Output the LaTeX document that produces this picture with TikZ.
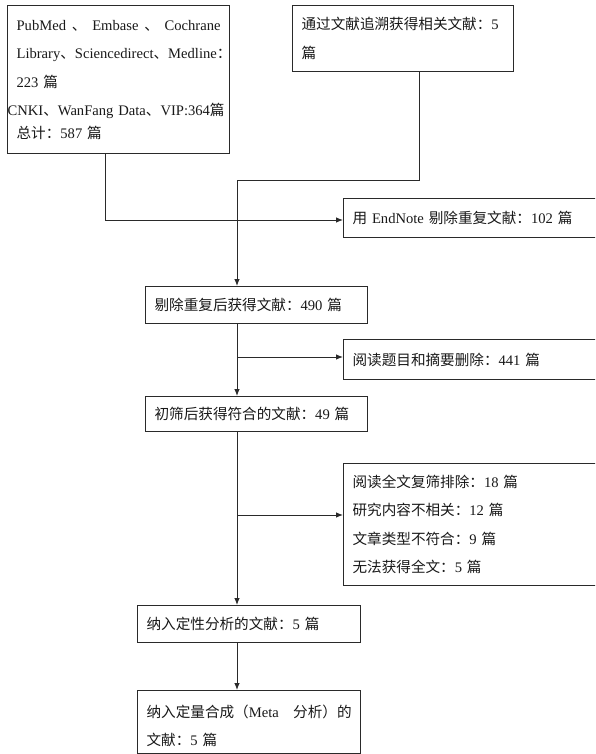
\documentclass[tikz,border=0pt]{standalone}
\usepackage{fontspec}
\setmainfont{Liberation Serif}
\newfontfamily\cjk{Noto Sans CJK SC}
\newcommand\zh[1]{{\cjk #1}}
\usetikzlibrary{arrows.meta,calc}
\definecolor{ink}{HTML}{2A2A2A}
\tikzset{
  fbox/.style={draw=ink, line width=1.2pt, rectangle, anchor=north west,
    align=left, inner xsep=9pt, inner ysep=0pt, text=black!90,
    font=\fontsize{14.6}{28.5}\selectfont},
  conn/.style={draw=ink, line width=0.9pt},
  arr/.style={conn, -{Latex[length=7pt,width=5.5pt]}}
}
\begin{document}
\begin{tikzpicture}[x=1pt,y=-1pt]
\useasboundingbox (0,0) rectangle (595,754);
\clip (0,0) rectangle (595,754);
\fill[white] (0,0) rectangle (595,754);
% boxes
\node[fbox, text width=204pt, minimum height=148pt] (src) at (7,5)
  {\hbox to \linewidth{PubMed\hfill\zh{、}\hfill Embase\hfill\zh{、}\hfill Cochrane}\\
   \makebox[\linewidth][l]{Library\zh{、}Sciencedirect\zh{、}Medline\zh{：}}\\
   223 \zh{篇}\\
   \makebox[\linewidth][l]{\hspace*{-9pt}CNKI\zh{、}WanFang Data\zh{、}VIP:364\zh{篇}}\\[-6pt]
   \zh{总计：}587 \zh{篇}};
\node[fbox, text width=203pt, minimum height=66pt] (trace) at (292,5)
  {\zh{通过文献追溯获得相关文献：}5\\ \zh{篇}};
\node[fbox, text width=249pt, minimum height=39pt] (endnote) at (343,198)
  {\zh{用} EndNote \zh{剔除重复文献：}102 \zh{篇}};
\node[fbox, text width=204pt, minimum height=37pt] (dedup) at (145,286)
  {\zh{剔除重复后获得文献：}490 \zh{篇}};
\node[fbox, text width=249pt, minimum height=40pt] (title) at (343,339)
  {\zh{阅读题目和摘要删除：}441 \zh{篇}};
\node[fbox, text width=204pt, minimum height=35pt] (prelim) at (145,396)
  {\zh{初筛后获得符合的文献：}49 \zh{篇}};
\node[fbox, text width=249pt, minimum height=122pt] (full) at (343,463)
  {\zh{阅读全文复筛排除：}18 \zh{篇}\\
   \zh{研究内容不相关：}12 \zh{篇}\\
   \zh{文章类型不符合：}9 \zh{篇}\\
   \zh{无法获得全文：}5 \zh{篇}};
\node[fbox, text width=205pt, minimum height=37pt] (qual) at (137,605)
  {\zh{纳入定性分析的文献：}5 \zh{篇}};
\node[fbox, text width=205pt, minimum height=63pt] (meta) at (137,690)
  {\rule{0pt}{20pt}\hbox to \linewidth{\zh{纳入定量合成（}Meta\hfill\zh{分析）的}}\\
   \zh{文献：}5 \zh{篇}};
% connectors
\coordinate (j1) at (105,220);
\coordinate (j2) at (419,180);
\coordinate (j3) at (237,180);
\coordinate (b1) at (237,357);
\coordinate (b2) at (237,515);
\draw[arr] (src.south -| j1) -- (j1) -- (j1 -| endnote.west);
\draw[arr] (trace.south -| j2) -- (j2) -- (j3) -- (j3 |- dedup.north);
\draw[arr] (dedup.south -| j3) -- (prelim.north -| j3);
\draw[arr] (b1) -- (b1 -| title.west);
\draw[arr] (prelim.south -| j3) -- (qual.north -| j3);
\draw[arr] (b2) -- (b2 -| full.west);
\draw[arr] (qual.south -| j3) -- (meta.north -| j3);
\end{tikzpicture}
\end{document}
